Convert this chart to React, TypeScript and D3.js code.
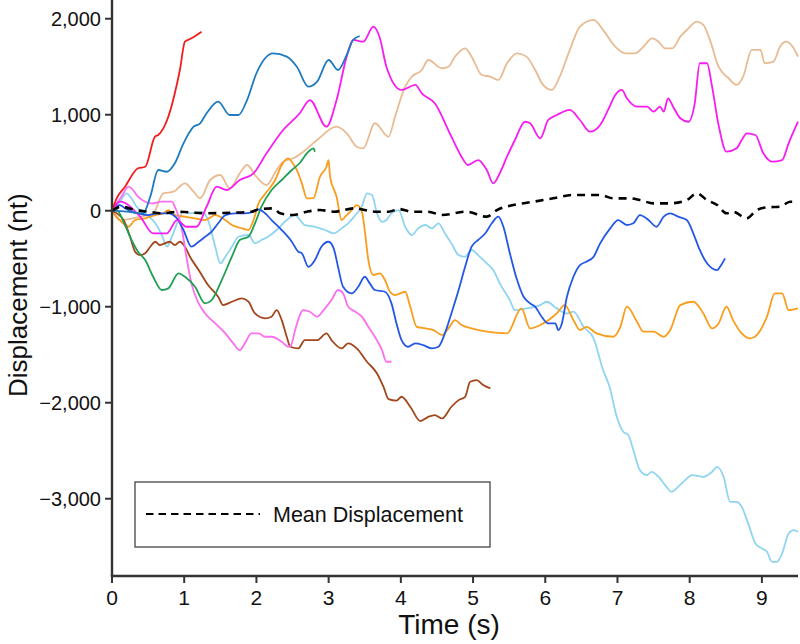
import React from "react";
import * as d3 from "d3";

// time (s), displacement (nt)
const red = [[0, 0], [0.065, 129], [0.18, 250], [0.36, 442], [0.46, 458], [0.595, 771], [0.64, 789], [0.78, 979], [0.87, 1223], [0.94, 1466], [1.01, 1761], [1.1, 1796], [1.24, 1865]];

const steelBlue = [[0, 0], [0.2, -10], [0.43, -27], [0.53, 146], [0.64, 424], [0.76, 406], [0.87, 494], [0.99, 702], [1.13, 875], [1.22, 911], [1.31, 1015], [1.47, 1136], [1.63, 997], [1.75, 997], [1.87, 1153], [2.0, 1432], [2.23, 1640], [2.42, 1605], [2.56, 1500], [2.72, 1292], [2.84, 1344], [3.0, 1570], [3.13, 1466], [3.25, 1622], [3.34, 1779], [3.43, 1820]];

const magenta = [[0, 0], [0.11, 94], [0.39, -62], [0.57, -235], [0.76, -235], [0.9, -97], [1.03, -167], [1.17, -167], [1.31, 42], [1.45, 250], [1.59, 216], [1.77, 320], [1.96, 390], [2.14, 598], [2.37, 841], [2.6, 1015], [2.74, 1153], [2.97, 875], [3.11, 1153], [3.25, 1605], [3.34, 1779], [3.48, 1761], [3.62, 1917], [3.71, 1796], [3.8, 1500], [4.01, 1258], [4.2, 1310], [4.29, 1223], [4.47, 1119], [4.7, 771], [4.84, 563], [4.93, 476], [5.07, 528], [5.19, 424], [5.28, 285], [5.37, 390], [5.47, 563], [5.58, 737], [5.72, 927], [5.79, 911], [5.93, 754], [6.04, 945], [6.16, 997], [6.34, 1050], [6.48, 945], [6.62, 823], [6.76, 893], [6.87, 1050], [6.97, 1206], [7.06, 1258], [7.13, 1171], [7.27, 1084], [7.41, 1084], [7.5, 1032], [7.59, 1084], [7.64, 1032], [7.7, 1171], [7.77, 1084], [7.87, 963], [7.98, 927], [8.07, 1119], [8.14, 1536], [8.24, 1536], [8.31, 1292], [8.4, 893], [8.51, 615], [8.65, 650], [8.72, 737], [8.79, 806], [8.91, 789], [9.02, 598], [9.14, 511], [9.28, 528], [9.37, 702], [9.5, 927]];

const tan = [[0, 0], [0.11, -97], [0.39, -62], [0.57, -27], [0.71, 181], [0.85, 198], [1.01, 285], [1.13, 198], [1.22, 129], [1.36, 320], [1.5, 372], [1.63, 233], [1.77, 390], [1.87, 476], [2.0, 354], [2.14, 268], [2.28, 424], [2.37, 511], [2.51, 546], [2.65, 615], [2.84, 737], [3.11, 875], [3.25, 806], [3.39, 667], [3.48, 650], [3.64, 911], [3.83, 771], [3.92, 980], [4.06, 1292], [4.15, 1396], [4.29, 1466], [4.38, 1570], [4.57, 1484], [4.66, 1500], [4.75, 1605], [4.89, 1692], [4.98, 1605], [5.12, 1414], [5.24, 1396], [5.35, 1362], [5.47, 1536], [5.61, 1640], [5.74, 1605], [5.86, 1466], [5.97, 1310], [6.09, 1258], [6.2, 1396], [6.34, 1675], [6.48, 1917], [6.67, 1987], [6.8, 1883], [6.97, 1709], [7.11, 1640], [7.24, 1640], [7.36, 1709], [7.48, 1796], [7.57, 1761], [7.66, 1692], [7.76, 1692], [7.87, 1813], [7.96, 1883], [8.1, 1970], [8.19, 1935], [8.28, 1779], [8.4, 1500], [8.54, 1380], [8.65, 1310], [8.74, 1396], [8.86, 1675], [8.98, 1675], [9.04, 1536], [9.16, 1553], [9.25, 1709], [9.34, 1761], [9.44, 1692], [9.5, 1605]];

const green = [[0, 0], [0.065, 7], [0.18, -149], [0.27, -305], [0.36, -427], [0.46, -514], [0.57, -688], [0.69, -826], [0.78, -809], [0.92, -652], [1.01, -688], [1.15, -792], [1.29, -965], [1.38, -931], [1.52, -722], [1.66, -479], [1.77, -305], [1.89, -271], [1.98, -131], [2.07, 42], [2.21, 216], [2.35, 320], [2.49, 424], [2.6, 497], [2.72, 615], [2.79, 650], [2.81, 615]];

const orange = [[0, 0], [0.13, -115], [0.23, -167], [0.32, -97], [0.46, -79], [0.6, -45], [0.71, -27], [0.78, 7], [0.87, -45], [1.01, -62], [1.15, -79], [1.29, -97], [1.43, -45], [1.57, -97], [1.66, -149], [1.8, -184], [1.89, -201], [1.96, -97], [2.03, 77], [2.12, 174], [2.26, 320], [2.35, 476], [2.44, 546], [2.51, 487], [2.56, 424], [2.63, 285], [2.7, 129], [2.79, 132], [2.88, 354], [2.97, 458], [3.0, 528], [3.02, 354], [3.11, 146], [3.18, -97], [3.23, -62], [3.3, -10], [3.39, 59], [3.46, -10], [3.5, -201], [3.55, -514], [3.62, -670], [3.71, -652], [3.78, -722], [3.85, -844], [3.92, -879], [4.06, -844], [4.13, -1000], [4.22, -1209], [4.34, -1226], [4.45, -1243], [4.57, -1295], [4.66, -1226], [4.75, -1139], [4.84, -1191], [4.98, -1226], [5.19, -1260], [5.47, -1278], [5.67, -1017], [5.79, -1226], [5.93, -1191], [6.16, -1070], [6.27, -983], [6.39, -1139], [6.48, -1243], [6.57, -1209], [6.71, -1278], [6.94, -1313], [7.04, -1209], [7.13, -1000], [7.27, -1157], [7.36, -1260], [7.5, -1260], [7.64, -1313], [7.73, -1243], [7.87, -983], [8.05, -948], [8.19, -1070], [8.31, -1226], [8.4, -1174], [8.51, -1000], [8.6, -1139], [8.72, -1278], [8.84, -1330], [8.93, -1295], [9.07, -1104], [9.18, -861], [9.28, -861], [9.37, -1035], [9.5, -1017]];

const blue = [[0, 0], [0.11, 59], [0.18, 25], [0.27, -10], [0.36, -27], [0.5, -45], [0.64, -27], [0.78, -27], [0.9, -79], [0.99, -201], [1.1, -375], [1.2, -323], [1.29, -271], [1.38, -219], [1.47, -131], [1.57, -45], [1.7, -27], [1.84, -27], [1.96, -10], [2.03, 15], [2.12, -27], [2.21, -97], [2.35, -201], [2.49, -323], [2.58, -427], [2.63, -444], [2.72, -584], [2.81, -514], [2.9, -375], [3.0, -323], [3.07, -392], [3.13, -584], [3.2, -792], [3.32, -861], [3.41, -792], [3.5, -688], [3.57, -757], [3.64, -826], [3.78, -844], [3.87, -965], [3.94, -1174], [4.01, -1348], [4.1, -1417], [4.2, -1382], [4.31, -1400], [4.43, -1434], [4.52, -1417], [4.61, -1278], [4.7, -1070], [4.8, -826], [4.89, -584], [4.98, -375], [5.07, -305], [5.17, -235], [5.26, -131], [5.35, -62], [5.42, -167], [5.51, -444], [5.61, -722], [5.7, -896], [5.79, -965], [5.86, -1000], [5.95, -1104], [6.04, -1174], [6.14, -1174], [6.18, -1243], [6.23, -1174], [6.3, -896], [6.39, -688], [6.48, -566], [6.57, -531], [6.67, -479], [6.76, -340], [6.9, -184], [7.01, -97], [7.13, -149], [7.22, -131], [7.31, -45], [7.43, -97], [7.54, -167], [7.64, -62], [7.73, -27], [7.84, -62], [7.96, -97], [8.05, -235], [8.14, -409], [8.24, -548], [8.38, -618], [8.42, -584], [8.49, -496]];

const lightBlue = [[0, 0], [0.11, 94], [0.2, 181], [0.27, 129], [0.34, 42], [0.46, -27], [0.6, -131], [0.69, -253], [0.76, -375], [0.83, -271], [0.92, -97], [0.99, -10], [1.1, -27], [1.24, -10], [1.33, -97], [1.43, -375], [1.5, -548], [1.57, -479], [1.66, -375], [1.75, -271], [1.89, -253], [1.98, -340], [2.07, -305], [2.16, -271], [2.28, -201], [2.42, -97], [2.53, -45], [2.67, -149], [2.81, -167], [2.95, -201], [3.07, -235], [3.18, -184], [3.27, -131], [3.37, -45], [3.46, 42], [3.53, 181], [3.6, 164], [3.67, -27], [3.74, -115], [3.8, -97], [3.87, -27], [3.97, 7], [4.06, -167], [4.15, -253], [4.24, -184], [4.34, -149], [4.43, -184], [4.52, -131], [4.61, -235], [4.7, -340], [4.8, -462], [4.89, -479], [4.98, -409], [5.07, -462], [5.19, -548], [5.28, -618], [5.37, -757], [5.51, -931], [5.58, -1035], [5.74, -1017], [5.93, -983], [6.02, -948], [6.16, -1017], [6.3, -1070], [6.39, -1052], [6.53, -1209], [6.67, -1330], [6.8, -1660], [6.89, -1834], [6.99, -2147], [7.08, -2303], [7.15, -2337], [7.22, -2494], [7.31, -2702], [7.41, -2754], [7.47, -2720], [7.57, -2772], [7.66, -2858], [7.75, -2928], [7.84, -2876], [7.94, -2806], [8.03, -2754], [8.19, -2772], [8.31, -2720], [8.38, -2668], [8.47, -2772], [8.56, -3032], [8.65, -3032], [8.72, -3084], [8.81, -3257], [8.91, -3466], [9.0, -3518], [9.07, -3553], [9.14, -3657], [9.21, -3657], [9.28, -3570], [9.37, -3362], [9.44, -3327], [9.5, -3345]];

const brown = [[0, 0], [0.16, -97], [0.25, -271], [0.32, -427], [0.39, -462], [0.46, -444], [0.53, -375], [0.6, -323], [0.66, -357], [0.8, -323], [0.87, -357], [0.94, -323], [1.01, -375], [1.08, -479], [1.2, -618], [1.33, -774], [1.47, -896], [1.54, -983], [1.66, -948], [1.8, -913], [1.89, -948], [1.98, -1070], [2.12, -1121], [2.21, -1104], [2.28, -1035], [2.35, -1139], [2.42, -1313], [2.47, -1417], [2.58, -1434], [2.67, -1348], [2.84, -1348], [2.97, -1278], [3.04, -1348], [3.18, -1434], [3.27, -1382], [3.39, -1434], [3.53, -1573], [3.67, -1695], [3.76, -1834], [3.83, -1962], [3.94, -1978], [4.01, -1938], [4.13, -2042], [4.27, -2191], [4.38, -2147], [4.47, -2129], [4.57, -2164], [4.7, -2042], [4.8, -1973], [4.89, -1938], [4.96, -1782], [5.05, -1764], [5.14, -1816], [5.24, -1851]];

const pink = [[0, 0], [0.13, 146], [0.23, 250], [0.27, 233], [0.36, 146], [0.46, 94], [0.55, 77], [0.69, 94], [0.83, 94], [0.87, 42], [0.97, -201], [1.03, -479], [1.1, -757], [1.2, -965], [1.29, -1070], [1.43, -1174], [1.57, -1278], [1.68, -1382], [1.77, -1452], [1.84, -1382], [1.93, -1278], [2.03, -1278], [2.12, -1313], [2.21, -1313], [2.35, -1365], [2.44, -1417], [2.48, -1400], [2.53, -1260], [2.65, -1035], [2.74, -1052], [2.84, -1104], [2.93, -1035], [3.04, -931], [3.13, -826], [3.2, -861], [3.27, -1000], [3.37, -1052], [3.46, -1104], [3.55, -1209], [3.64, -1313], [3.74, -1452], [3.8, -1573], [3.87, -1573]];

const meanDisp = [[0, 0], [0.13, 42], [0.32, 7], [0.5, -10], [0.69, -27], [0.92, -10], [1.29, -27], [1.66, -20], [1.93, -10], [2.03, 15], [2.23, 25], [2.33, -27], [2.51, -45], [2.7, -10], [2.88, 7], [3.07, -10], [3.37, 25], [3.5, 7], [3.64, -10], [3.83, -10], [3.97, 18], [4.15, -10], [4.38, -10], [4.57, -45], [4.91, -10], [5.19, -62], [5.33, 7], [5.56, 59], [5.84, 94], [6.11, 129], [6.39, 164], [6.76, 164], [6.94, 129], [7.17, 129], [7.31, 111], [7.5, 77], [7.73, 77], [7.96, 111], [8.1, 181], [8.24, 111], [8.38, 59], [8.51, -27], [8.6, -10], [8.79, -79], [8.93, 7], [9.07, 35], [9.25, 42], [9.39, 94], [9.5, 94]];

const series = [
  { values: tan, color: "#e9bb93" },
  { values: lightBlue, color: "#8fd5f2" },
  { values: orange, color: "#f99d1c" },
  { values: brown, color: "#a2461c" },
  { values: pink, color: "#fd6ef0" },
  { values: green, color: "#1f9f55" },
  { values: blue, color: "#2457e6" },
  { values: magenta, color: "#f81cf0" },
  { values: steelBlue, color: "#1f7bbf" },
  { values: red, color: "#f21c1c" },
];

const xTicks = [0, 1, 2, 3, 4, 5, 6, 7, 8, 9];
const yTicks = [2000, 1000, 0, -1000, -2000, -3000];

const W = 800;
const H = 644;
const FONT = "Arial, 'Liberation Sans', sans-serif";

export default function App() {
  const x = d3.scaleLinear().domain([0, 9.5]).range([112, 798]);
  const y = d3.scaleLinear().domain([-3805, 2195]).range([576, 0]);

  const line = d3
    .line<number[]>()
    .x((d) => x(d[0]))
    .y((d) => y(d[1]))
    .curve(d3.curveMonotoneX);

  const fmt = (v: number) => d3.format(",")(v).replace("-", "\u2212");

  return (
    <svg
      width={W}
      height={H}
      style={{ position: "absolute", left: 0, top: 0, background: "#fff" }}
      fontFamily={FONT}
    >
      {series.map((s, i) => (
        <path key={i} d={line(s.values) || ""} fill="none" stroke={s.color} strokeWidth={1.8} strokeLinejoin="round" />
      ))}
      <path d={line(meanDisp) || ""} fill="none" stroke="#000" strokeWidth={2.6} strokeDasharray="8 6" />

      {/* axes */}
      <line x1={x(0)} x2={x(0)} y1={0} y2={y.range()[0]} stroke="#333" strokeWidth={2.4} />
      <line x1={x(0) - 1.2} x2={x(9.5)} y1={y.range()[0]} y2={y.range()[0]} stroke="#333" strokeWidth={2.4} />
      {yTicks.map((t) => (
        <g key={t}>
          <line x1={x(0) - 7} x2={x(0)} y1={y(t)} y2={y(t)} stroke="#333" strokeWidth={2} />
          <text x={x(0) - 11} y={y(t)} dy="0.35em" textAnchor="end" fontSize={20} fill="#111">
            {fmt(t)}
          </text>
        </g>
      ))}
      {xTicks.map((t) => (
        <g key={t}>
          <line x1={x(t)} x2={x(t)} y1={576} y2={583} stroke="#333" strokeWidth={2} />
          <text x={x(t)} y={605} textAnchor="middle" fontSize={21} fill="#111">
            {t}
          </text>
        </g>
      ))}
      <text x={449} y={634} textAnchor="middle" fontSize={28} fill="#111">
        Time (s)
      </text>
      <text
        transform={`translate(27,${y(-880)}) rotate(-90)`}
        textAnchor="middle"
        fontSize={26}
        fill="#111"
      >
        Displacement (nt)
      </text>

      {/* legend */}
      <rect x={135} y={482} width={355} height={65} fill="#fff" stroke="#444" strokeWidth={1.3} />
      <line x1={146} x2={260} y1={514} y2={514} stroke="#000" strokeWidth={2} strokeDasharray="7.5 5" />
      <text x={273} y={521.5} fontSize={21.5} fill="#111">
        Mean Displacement
      </text>
    </svg>
  );
}
